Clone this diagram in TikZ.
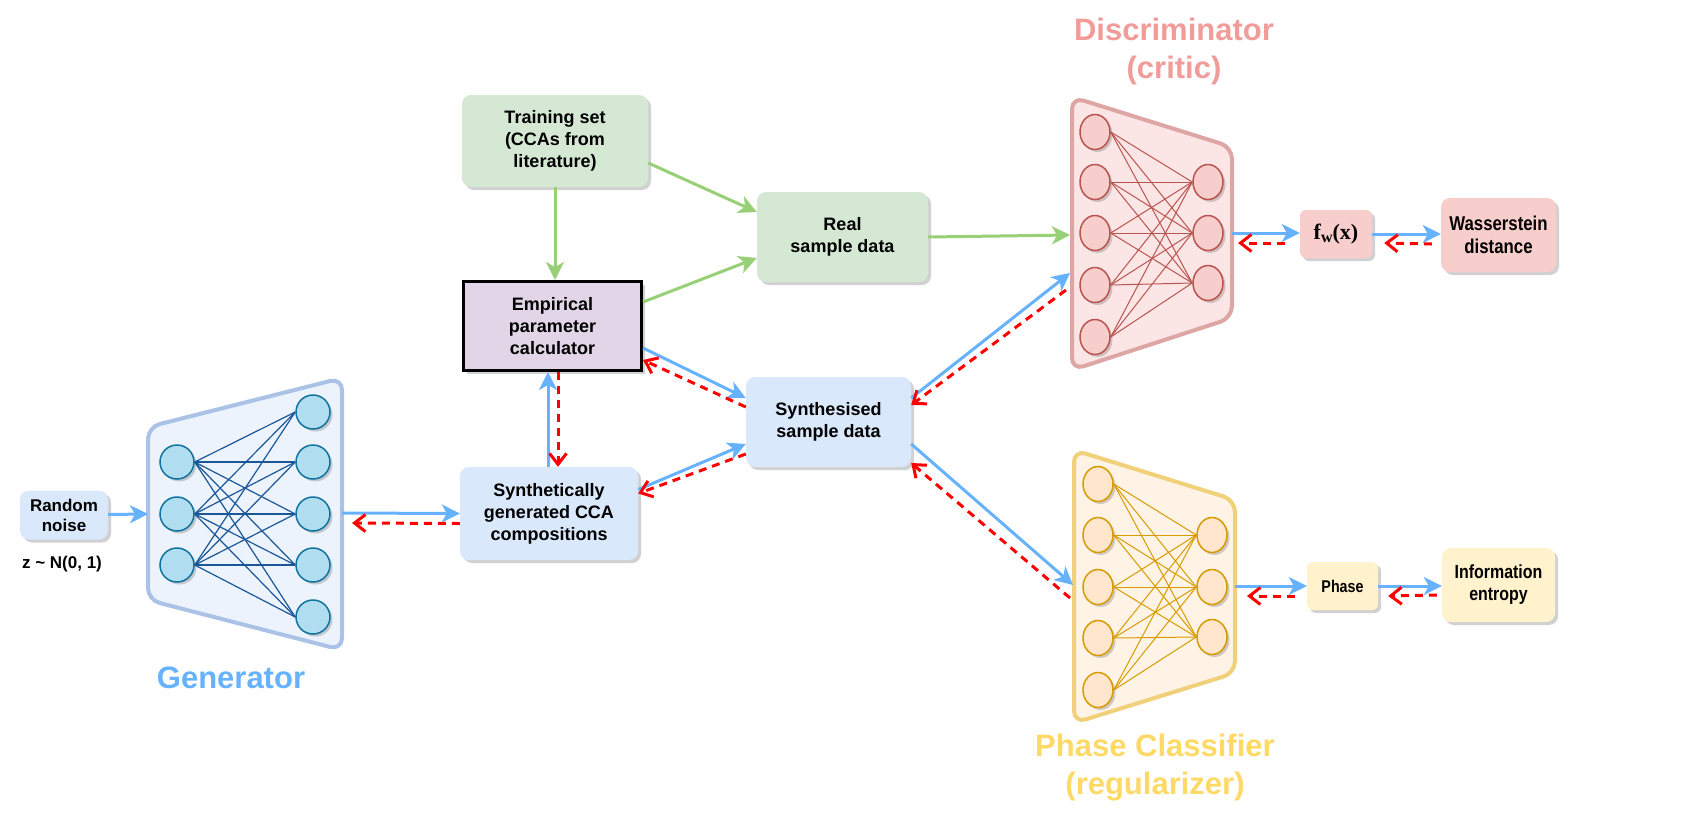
\documentclass[tikz,border=0pt]{standalone}
\usepackage{fontspec}
\setmainfont{Liberation Sans}
\newfontfamily\serifbf{Liberation Serif}
\newfontfamily\narrowsans[FakeStretch=0.84]{Liberation Sans}
\usepackage{tikz}
\usetikzlibrary{arrows.meta,positioning,shadows,shapes.geometric}
\tikzset{>/.tip={Stealth[length=18pt,width=18pt,inset=5pt]}}
\tikzset{rv/.tip={Straight Barb[length=11pt,width=17pt,line width=3pt]}}
\definecolor{fwdblue}{HTML}{66B2FF}
\definecolor{realgreen}{HTML}{97D077}
\definecolor{bluebox}{HTML}{DAE8FC}
\definecolor{greenbox}{HTML}{D5E8D4}
\definecolor{purplebox}{HTML}{E1D5E7}
\definecolor{pinkbox}{HTML}{F8CECC}
\definecolor{yellowbox}{HTML}{FFF2CC}
\definecolor{genfill}{HTML}{EDF3FC}
\definecolor{genline}{HTML}{A9C2E6}
\definecolor{gennode}{HTML}{B1DDF0}
\definecolor{genedge}{HTML}{10739E}
\definecolor{genwire}{HTML}{1A5799}
\definecolor{discfill}{HTML}{FCE6E5}
\definecolor{discline}{HTML}{DDA6A4}
\definecolor{discedge}{HTML}{B85450}
\definecolor{disctitle}{HTML}{F19C99}
\definecolor{clsfill}{HTML}{FFF3E6}
\definecolor{clsline}{HTML}{F0D078}
\definecolor{clsnode}{HTML}{FFE6CC}
\definecolor{clsedge}{HTML}{D79B00}
\definecolor{clstitle}{HTML}{FFD966}
\colorlet{alert}{red}
\tikzset{
  box/.style={rounded corners=9pt,align=center,inner sep=2pt,
    drop shadow={shadow xshift=3pt,shadow yshift=-3pt,fill=black!60,opacity=.3}},
  fwd/.style={->,draw=fwdblue,line width=3pt},
  real/.style={->,draw=realgreen,line width=3pt},
  bwd/.style={-rv,draw=alert,line width=3pt,dash pattern=on 8pt off 6pt},
  neuron/.style={circle,draw,line width=1.5pt,minimum size=34pt,inner sep=0pt,
    drop shadow={shadow xshift=2.5pt,shadow yshift=-2.5pt,fill=black!60,opacity=.3}},
  oval/.style={neuron,ellipse,minimum width=30pt,minimum height=35pt},
  net/.style={line width=4pt,rounded corners=12pt},
  title/.style={align=center,font=\fontsize{31}{38}\selectfont\bfseries},
}

\begin{document}
\begin{tikzpicture}[x=1pt,y=-1pt,font=\fontsize{18}{22}\selectfont\bfseries]
  \useasboundingbox (0,0) rectangle (1682,823);
  % generator
  \draw[net,draw=genline,fill=genfill]
    (148,427) -- (342,378) -- (342,650) -- (148,600) -- cycle;
  \foreach \y [count=\i] in {462,514,565}
    \node[neuron,draw=genedge,fill=gennode] (GI\i) at (177,\y) {};
  \foreach \y [count=\j] in {412,462,514,565,617}
    \node[neuron,draw=genedge,fill=gennode] (GO\j) at (313,\y) {};
  \foreach \i in {1,...,3}
    \foreach \j in {1,...,5}
      \draw[genwire,line width=1.2pt] (GI\i.east) -- (GO\j.west);
  \coordinate (GenIn) at (148,514);
  \coordinate (GenOut) at (342,513);
  \coordinate (GenBack) at (352,523);
  \node[title,text=fwdblue] (GenTitle) at (231,678) {Generator};

  % discriminator
  \draw[net,draw=discline,fill=discfill]
    (1072,97) -- (1232,147) -- (1232,318) -- (1072,370) -- cycle;
  \foreach \y [count=\i] in {132,182,233,285,337}
    \node[oval,draw=discedge,fill=pinkbox] (DI\i) at (1095,\y) {};
  \foreach \y [count=\j] in {182,233,283}
    \node[oval,draw=discedge,fill=pinkbox] (DO\j) at (1208,\y) {};
  \foreach \i in {1,...,5}
    \foreach \j in {1,...,3}
      \draw[discedge,line width=1pt] (DI\i.east) -- (DO\j.west);
  \coordinate (DiscIn) at (1070,235);
  \coordinate (DiscLo) at (1070,273);
  \coordinate (DiscBackL) at (1066,290);
  \coordinate (DiscOut) at (1232,233);
  \coordinate (DiscBack) at (1238,243);
  \node[title,text=disctitle] (DiscTitle) at (1174,51) {Discriminator\\(critic)};

  % phase classifier
  \draw[net,draw=clsline,fill=clsfill]
    (1074,450) -- (1235,500) -- (1235,673) -- (1074,723) -- cycle;
  \foreach \y [count=\i] in {484,535,587,638,690}
    \node[oval,draw=clsedge,fill=clsnode] (CI\i) at (1098,\y) {};
  \foreach \y [count=\j] in {535,587,637}
    \node[oval,draw=clsedge,fill=clsnode] (CO\j) at (1212,\y) {};
  \foreach \i in {1,...,5}
    \foreach \j in {1,...,3}
      \draw[clsedge,line width=1pt] (CI\i.east) -- (CO\j.west);
  \coordinate (ClsIn) at (1073,585);
  \coordinate (ClsBackL) at (1070,598);
  \coordinate (ClsOut) at (1235,586);
  \coordinate (ClsBack) at (1247,596);
  \node[title,text=clstitle] (ClsTitle) at (1155,768) {Phase Classifier\\(regularizer)};

  % boxes
  \node[box,fill=bluebox,minimum width=88pt,minimum height=49pt,
    font=\fontsize{17}{20}\selectfont\bfseries] (Noise) at (64,515) {Random\\noise};
  \node[font=\fontsize{17}{20}\selectfont\bfseries] (NoiseDist) at (62,564) {z \textasciitilde{} N(0, 1)};
  \node[box,fill=greenbox,minimum width=186pt,minimum height=92pt] (Train) at (555,141)
    {Training set\\(CCAs from\\literature)};
  \node[box,fill=purplebox,draw=black,line width=3pt,rounded corners=0pt,
    minimum width=178pt,minimum height=89pt] (Emp) at (552.5,326) {Empirical\\parameter\\calculator};
  \node[box,fill=greenbox,minimum width=171pt,minimum height=90pt] (Real) at (842.5,237)
    {Real\\sample data};
  \node[box,fill=bluebox,minimum width=165pt,minimum height=90pt] (Synth) at (828.5,422)
    {Synthesised\\sample data};
  \node[box,fill=bluebox,minimum width=178pt,minimum height=93pt] (SynComp) at (549,513.5)
    {Synthetically\\generated CCA\\compositions};
  \node[box,fill=pinkbox,rounded corners=6pt,minimum width=72pt,minimum height=48pt,
    font=\fontsize{22}{24}\serifbf\bfseries] (Fw) at (1336,234)
    {f\raisebox{-3pt}{\fontsize{16}{16}\selectfont w}(x)};
  \node[box,fill=pinkbox,minimum width=115pt,minimum height=74pt,
    font=\fontsize{20}{23}\narrowsans\bfseries] (Wass) at (1498.5,235) {Wasserstein\\distance};
  \node[box,fill=yellowbox,rounded corners=6pt,minimum width=71pt,minimum height=48pt,
    font=\fontsize{17}{20}\narrowsans\bfseries] (Phase) at (1342.5,586) {Phase};
  \node[box,fill=yellowbox,minimum width=113pt,minimum height=74pt,
    font=\fontsize{19}{22}\narrowsans\bfseries] (Info) at (1498.5,585) {Information\\entropy};

  % real data paths
  \draw[real] (Train.south) -- (Train.south |- Emp.north);
  \draw[real] ([yshift=-22pt]Train.east) -- ([yshift=25pt]Real.west);
  \draw[real] ([yshift=24pt]Emp.east) -- ([yshift=-21pt]Real.west);
  \draw[real] (Real.east) -- (DiscIn);

  % forward and backward passes
  \draw[fwd] (Noise) -- (GenIn);
  \draw[fwd] (GenOut) -- (SynComp.west);
  \draw[bwd] ([yshift=-10pt]SynComp.west) -- (GenBack);
  \draw[fwd] ([xshift=-1pt]SynComp.north) -- ([xshift=-1pt]SynComp.north |- Emp.south);
  \draw[bwd] ([xshift=9pt]SynComp.north |- Emp.south) -- ([xshift=9pt]SynComp.north);
  \draw[fwd] ([yshift=-22pt]Emp.east) -- ([yshift=24pt]Synth.west);
  \draw[bwd] ([yshift=15pt]Synth.west) -- ([yshift=-34pt]Emp.east);
  \draw[fwd] ([yshift=24pt]SynComp.east) -- ([yshift=-22pt]Synth.west);
  \draw[bwd] ([yshift=-32pt]Synth.west) -- ([yshift=20pt]SynComp.east);
  \draw[fwd] ([yshift=24pt]Synth.east) -- (DiscLo);
  \draw[bwd] (DiscBackL) -- ([yshift=17pt]Synth.east);
  \draw[fwd] ([yshift=-22pt]Synth.east) -- (ClsIn);
  \draw[bwd] (ClsBackL) -- ([yshift=-41pt]Synth.east);
  \draw[fwd] (DiscOut) -- (DiscOut -| Fw.west);
  \draw[bwd] ([xshift=-15pt,yshift=-9pt]Fw.west) -- (DiscBack);
  \draw[fwd] (Fw.east) -- (Fw.east -| Wass.west);
  \draw[bwd] ([xshift=-9pt,yshift=-9pt]Wass.west) -- ([xshift=12pt,yshift=-9pt]Fw.east);
  \draw[fwd] (ClsOut) -- (ClsOut -| Phase.west);
  \draw[bwd] ([xshift=-12pt,yshift=-10pt]Phase.west) -- (ClsBack);
  \draw[fwd] (Phase.east) -- (Phase.east -| Info.west);
  \draw[bwd] ([xshift=-5pt,yshift=-10pt]Info.west) -- ([xshift=10pt,yshift=-10pt]Phase.east);
\end{tikzpicture}
\end{document}
